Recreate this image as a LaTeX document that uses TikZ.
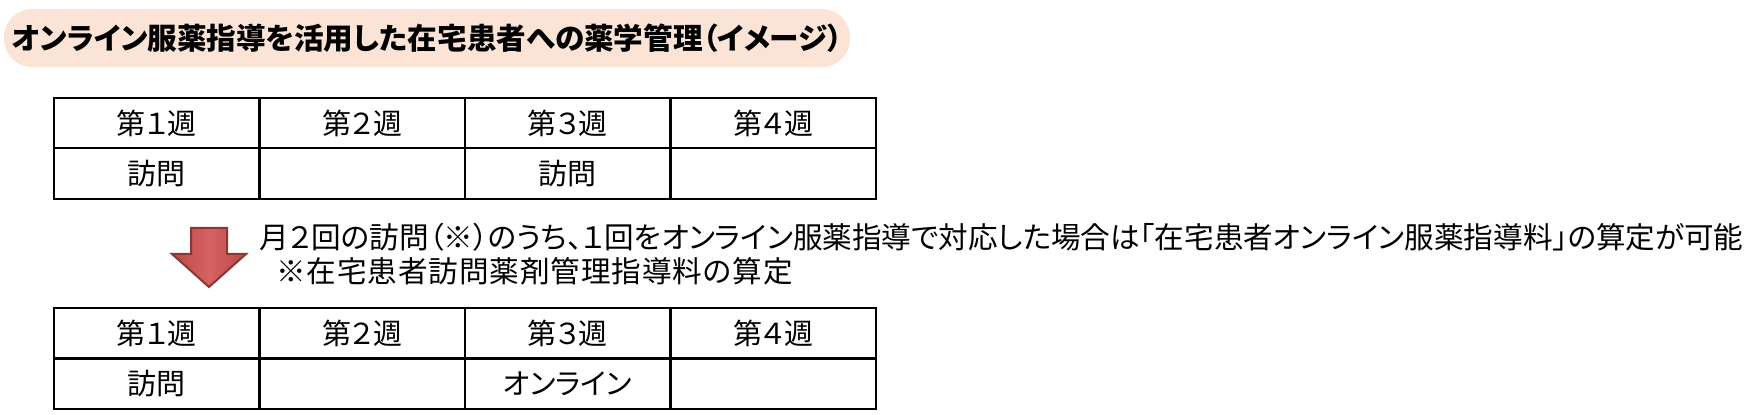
\documentclass[tikz,border=0pt]{standalone}
\usepackage{fontspec}
\setmainfont[RawFeature=+palt]{Noto Sans CJK JP}
\usepackage{tikz}
\definecolor{peach}{HTML}{FBE4D5}
\definecolor{arrowdark}{HTML}{B94A48}
\definecolor{arrowlight}{HTML}{D66262}
\definecolor{arrowedge}{HTML}{8E3533}
\tikzset{cell/.style={draw, line width=1.2pt, minimum width=102.75pt, minimum height=25.25pt, inner sep=0pt, font=\fontsize{14.5pt}{17pt}\selectfont}}
\tikzset{titlebar/.style={fill=peach, rounded corners=14pt, minimum width=423pt, minimum height=29pt, inner sep=0pt, font=\fontsize{14.8pt}{17pt}\selectfont\bfseries}}
\tikzset{note/.style={anchor=west, inner sep=0pt, font=\fontsize{14.8pt}{17pt}\selectfont}}

\begin{document}
\begin{tikzpicture}[x=0.5pt, y=-0.5pt]
  \useasboundingbox (0,0) rectangle (1759,415);
  \node[titlebar] (title) at (427,38) {オンライン服薬指導を活用した在宅患者への薬学管理（イメージ）};

  \foreach \w [count=\i] in {第１週,第２週,第３週,第４週} {
    \node[cell] (ha\i) at ({54+205.5*\i-102.75},123) {\w};
    \node[cell] (hb\i) at ({54+205.5*\i-102.75},333.5) {\w};
  }
  \node[cell] (va1) at (156.75,173.5) {訪問};
  \node[cell] (va2) at (362.25,173.5) {};
  \node[cell] (va3) at (567.75,173.5) {訪問};
  \node[cell] (va4) at (773.25,173.5) {};
  \node[cell] (vb1) at (156.75,383.5) {訪問};
  \node[cell] (vb2) at (362.25,383.5) {};
  \node[cell] (vb3) at (567.75,383.5) {オンライン};
  \node[cell] (vb4) at (773.25,383.5) {};

  \draw[draw=arrowedge, line width=1pt, left color=arrowdark, right color=arrowdark, middle color=arrowlight]
    (191,228) -- (227,228) -- (227,254) -- (246,254) -- (209,287) -- (172,254) -- (191,254) -- cycle;

  \node[note] (line1) at (259,237) {月２回の訪問（※）のうち、１回をオンライン服薬指導で対応した場合は「在宅患者オンライン服薬指導料」の算定が可能};
  \node[note] (line2) at (276,271) {\addfontfeature{LetterSpace=3}※在宅患者訪問薬剤管理指導料の算定};
\end{tikzpicture}
\end{document}
